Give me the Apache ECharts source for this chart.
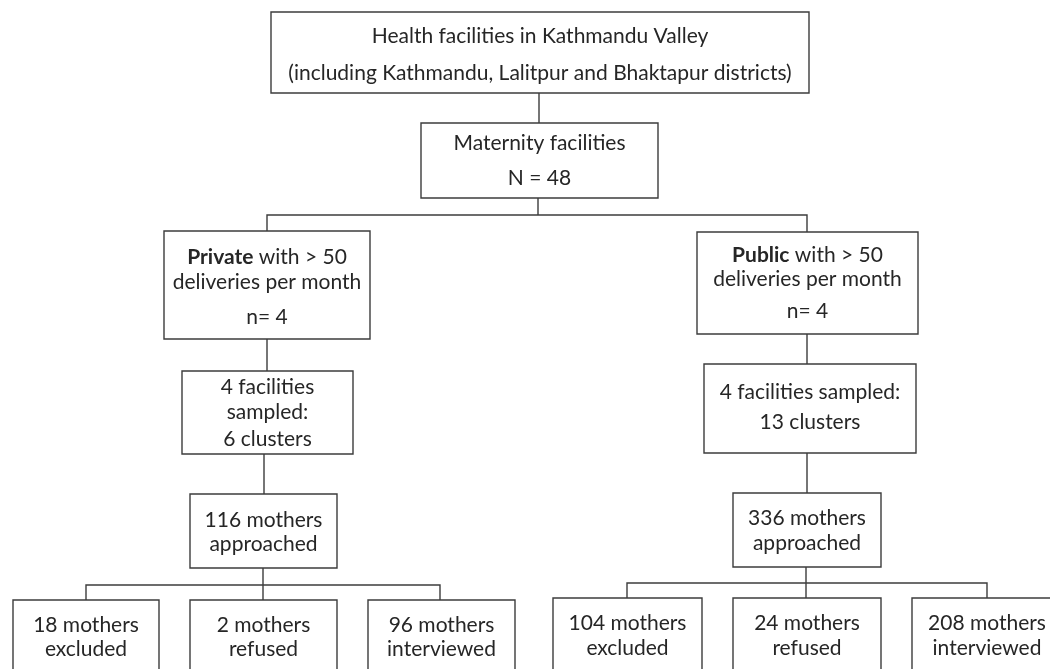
<!DOCTYPE html>
<html lang="en">
<head>
    <meta charset="UTF-8">
    <title>flow</title>
    <script src="https://cdn.jsdelivr.net/npm/echarts@6/dist/echarts.min.js"></script>
    <style>
        html, body { margin: 0; padding: 0; background: #fff; }
        #main { width: 1050px; height: 669px; }
    </style>
</head>
<body>
<div id="main"></div>
<script type="text/javascript">
    // counts shown in the boxes
    var maternityN = 48;
    var groups = ['Private', 'Public'];
    var facilitiesN = [4, 4];
    var sampledN = [4, 4];
    var clusters = [6, 13];
    var approached = [116, 336];
    var outcomes = ['excluded', 'refused', 'interviewed'];
    var privateOutcomes = [18, 2, 96];
    var publicOutcomes = [104, 24, 208];

    // box geometry (pixel grid 1050 x 669): [x0, y0, x1, y1] and line centres
    var L = {
        top: [271, 12, 809, 93, [36, 73]],
        mat: [421, 123, 658, 198, [143, 178]],
        grp: [[164, 231, 370, 339, [257, 282, 317]], [697, 232, 918, 334, [255, 279, 311]]],
        smp: [[182, 371, 353, 454, [387, 412, 439]], [704, 364, 916, 453, [392, 422]]],
        app: [[190, 494, 337, 568, [520, 544]], [733, 493, 881, 567, [518, 543]]],
        out: [
            [[13, 600, 159, 690], [190, 600, 337, 690], [368, 600, 515, 690]],
            [[553, 598, 702, 690], [733, 598, 881, 690], [912, 598, 1062, 690]]
        ],
        outY: [[625, 649], [623, 648]]
    };

    var boxes = [];
    boxes.push({ r: L.top, lines: ['Health facilities in Kathmandu Valley', '(including Kathmandu, Lalitpur and Bhaktapur districts)'] });
    boxes.push({ r: L.mat, lines: ['Maternity facilities', 'N = ' + maternityN] });
    groups.forEach(function (g, i) {
        boxes.push({ r: L.grp[i], lines: ['{b|' + g + '} with > 50', 'deliveries per month', 'n= ' + facilitiesN[i]] });
        var smpLines = i === 0
            ? [sampledN[i] + ' facilities', 'sampled:', clusters[i] + ' clusters']
            : [sampledN[i] + ' facilities sampled:', clusters[i] + ' clusters'];
        boxes.push({ r: L.smp[i], lines: smpLines });
        boxes.push({ r: L.app[i], lines: [approached[i] + ' mothers', 'approached'] });
        var vals = i === 0 ? privateOutcomes : publicOutcomes;
        outcomes.forEach(function (o, k) {
            var r = L.out[i][k].concat([L.outY[i]]);
            boxes.push({ r: r, lines: [vals[k] + ' mothers', o] });
        });
    });

    // connectors
    var links = [
        [[539, 93], [539, 123]],
        [[538, 198], [538, 215]],
        [[267, 231], [267, 215], [807, 215], [807, 232]],
        [[267, 339], [267, 371]],
        [[264, 454], [264, 494]],
        [[263, 568], [263, 600]],
        [[86, 600], [86, 585], [440, 585], [440, 600]],
        [[807, 334], [807, 364]],
        [[807, 453], [807, 493]],
        [[806, 567], [806, 598]],
        [[627, 598], [627, 583], [987, 583], [987, 598]]
    ];

    var FONT = 'Lato, "Open Sans", sans-serif';
    var FS = 21;
    var INK = '#262626';
    var EDGE = '#3c3c3c';

    var chart = echarts.init(document.getElementById('main'));
    chart.setOption({
        animation: false,
        backgroundColor: '#fff',
        grid: { left: 0, right: 0, top: 0, bottom: 0 },
        xAxis: { type: 'value', min: 0, max: 1050, show: false },
        yAxis: { type: 'value', min: 0, max: 669, inverse: true, show: false },
        series: [{
            type: 'lines',
            coordinateSystem: 'cartesian2d',
            polyline: true,
            z: 1,
            lineStyle: { color: EDGE, width: 1.4, opacity: 1 },
            data: links.map(function (c) { return { coords: c }; })
        }, {
            type: 'custom',
            clip: false,
            z: 2,
            data: boxes.map(function (b, i) { return [i]; }),
            renderItem: function (params, api) {
                var b = boxes[api.value(0)];
                var p0 = api.coord([b.r[0], b.r[1]]);
                var p1 = api.coord([b.r[2], b.r[3]]);
                var cx = (p0[0] + p1[0]) / 2;
                var kids = [{
                    type: 'rect',
                    shape: { x: p0[0], y: p0[1], width: p1[0] - p0[0], height: p1[1] - p0[1] },
                    style: { fill: '#fff', stroke: EDGE, lineWidth: 1.4 }
                }];
                b.lines.forEach(function (t, j) {
                    var y = api.coord([0, b.r[4][j]])[1];
                    kids.push({
                        type: 'text',
                        style: {
                            text: t, x: cx, y: y,
                            align: 'center', verticalAlign: 'middle',
                            fontSize: FS, fontFamily: FONT, fill: INK,
                            rich: { b: { fontSize: FS, fontFamily: FONT, fontWeight: 'bold', fill: INK } }
                        }
                    });
                });
                return { type: 'group', children: kids };
            }
        }]
    });
</script>
</body>
</html>
